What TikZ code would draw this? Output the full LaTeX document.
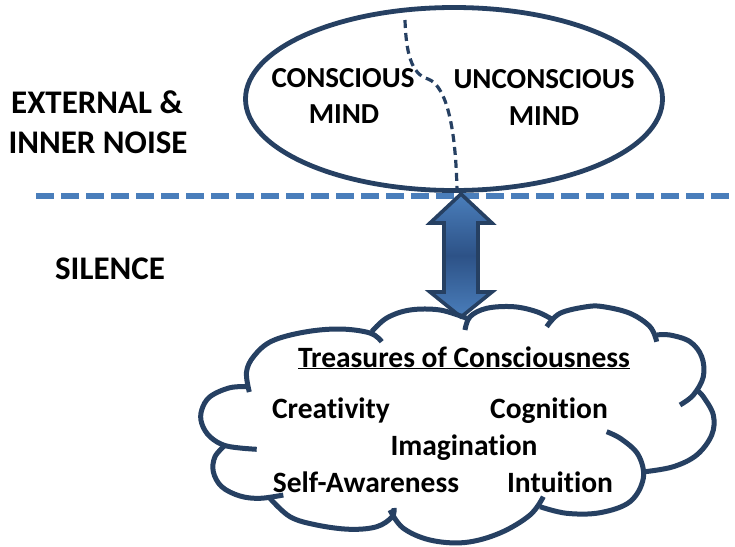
\documentclass[tikz,border=0pt]{standalone}
\usepackage{fontspec}
\setmainfont[RawFeature=-liga]{Carlito}
\usetikzlibrary{shapes.geometric}
\definecolor{navy}{RGB}{38,64,98}
\definecolor{lblue}{RGB}{74,126,187}
\definecolor{dblue}{RGB}{45,82,135}
\begin{document}
\begin{tikzpicture}[x=1pt,y=-1pt,
  bigtxt/.style={font=\fontsize{33}{40}\selectfont\bfseries, inner sep=0pt, anchor=base},
  midtxt/.style={font=\fontsize{29}{36}\selectfont\bfseries, inner sep=0pt, anchor=base},
  cloudtxt/.style={font=\fontsize{29.5}{34}\selectfont\bfseries, inner sep=0pt, anchor=base},
  divider/.style={draw=lblue, line width=6pt, dash pattern=on 18pt off 7pt},
  splitline/.style={draw=navy, line width=3.2pt, dash pattern=on 8pt off 5pt},
  bump/.style={draw=navy, line width=5pt},
  mindshape/.style={ellipse, draw=navy, line width=4.8pt, fill=white, minimum width=417pt, minimum height=183pt, inner sep=0pt},
  twoarrow/.style={draw=navy, line width=3.6pt, line join=miter, top color=lblue, bottom color=lblue, middle color=dblue}
]
\useasboundingbox (0,0) rectangle (735,546);
\fill[white] (0,0) rectangle (735,546);

% divider line
\coordinate (dl) at (36,196);
\coordinate (dr) at (735,196);
\draw[divider] (dl) -- (dr);

% mind ellipse
\node[mindshape] (mind) at (454,99) {};
\coordinate (c0) at (405,20);
\coordinate (c1) at (428,79);
\coordinate (c2) at (457,192);
\draw[splitline] (c0) .. controls (406,52) and (411,74) .. (c1) .. controls (447,86) and (456,130) .. (c2);

\node[midtxt] (cons1) at (343,87) {CONSCIOUS};
\node[midtxt] (cons2) at (344,123) {MIND};
\node[midtxt] (uncons1) at (544,88) {UNCONSCIOUS};
\node[midtxt] (uncons2) at (544,125) {MIND};

% left labels
\node[bigtxt] (ext1) at (97,113) {EXTERNAL \&};
\node[bigtxt] (ext2) at (98,153) {INNER NOISE};
\node[bigtxt] (sil) at (110,279) {SILENCE};

% double arrow
\coordinate (atop) at (461,194);
\coordinate (abot) at (461,317);
\path[twoarrow] (atop) -- ++(31,29) -- ++(-14,0) -- ++(0,69) -- ++(14,0) -- (abot)
  -- ++(-31,-25) -- ++(14,0) -- ++(0,-69) -- ++(-14,0) -- cycle;

% cloud
\draw[bump] plot[smooth, tension=0.6] coordinates {(381.7,341.7) (370,333) (340,329) (305,332) (272,341) (254,356) (246.5,372) (249.3,392)};
\draw[bump] plot[smooth, tension=0.6] coordinates {(249.3,386.7) (230,387.7) (210,396.7) (201.7,410) (201.7,423.3) (210,436.7) (226.7,446) (256.7,449.3)};
\draw[bump] plot[smooth, tension=0.6] coordinates {(225,445.3) (215,456.7) (213.3,471.7) (221.7,486.7) (240,496) (260,498.3) (283.3,495)};
\draw[bump] plot[smooth, tension=0.6] coordinates {(270,498.3) (290,516.7) (316.7,525) (350,529.3) (376.7,526.7) (392,517) (394,508)};
\draw[bump] plot[smooth, tension=0.6] coordinates {(390,510) (403,528) (430,540) (465,542.5) (500,533) (530,515) (543.3,496.7)};
\draw[bump] plot[smooth, tension=0.6] coordinates {(540,506.7) (566.7,513.3) (600,512.7) (630,501.7) (643.3,478.3) (638.3,455) (621.7,439.3) (606.7,431.7)};
\draw[bump] plot[smooth, tension=0.6] coordinates {(645,471.7) (673.3,466.7) (696.7,455) (711.7,435) (713.3,415) (703.3,396.7) (696.7,390)};
\draw[bump] plot[smooth, tension=0.6] coordinates {(680,405) (693.3,395) (703.3,376.7) (701.7,356.7) (690,341.7) (670,335) (656.7,335)};
\draw[bump] plot[smooth, tension=0.6] coordinates {(656.7,341.7) (650,326.7) (630,313.3) (603.3,306.7) (586.7,306.7) (560,313.3) (546.7,326.7)};
\draw[bump] plot[smooth, tension=0.6] coordinates {(553.3,320) (536.7,311.7) (513.3,306.7) (486.7,308.3) (470,316.7) (465,330)};
\draw[bump] plot[smooth, tension=0.6] coordinates {(466.7,318.3) (440,310) (410,310) (386.7,318) (371.7,331.7)};

% cloud texts
\node[cloudtxt] (treas) at (464,367) {\underline{Treasures of Consciousness}};
\node[cloudtxt] (crea) at (331,418) {Creativity};
\node[cloudtxt] (cogn) at (549,418) {Cognition};
\node[cloudtxt] (imag) at (464,455) {Imagination};
\node[cloudtxt] (self) at (366,492) {Self-Awareness};
\node[cloudtxt] (intu) at (560,492) {Intuition};
\end{tikzpicture}
\end{document}
